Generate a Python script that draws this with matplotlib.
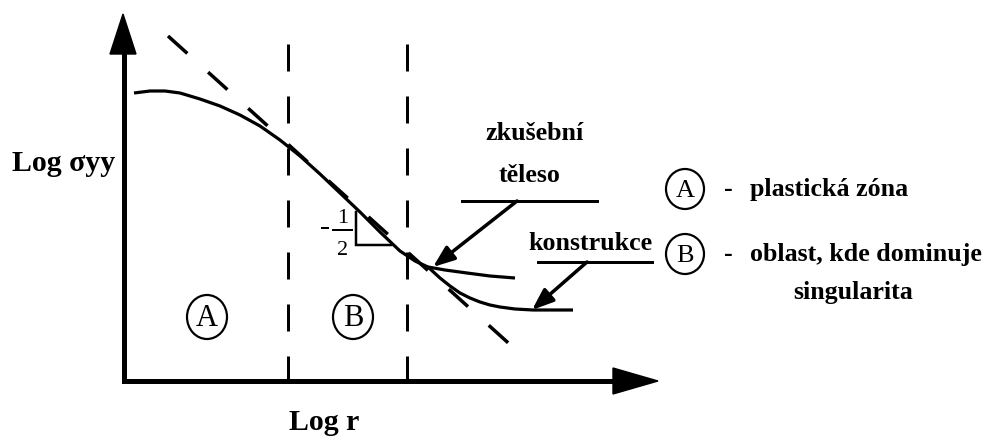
import matplotlib.pyplot as plt
from matplotlib.patches import Ellipse, Polygon

plt.rcParams['lines.scale_dashes'] = False
plt.rcParams['font.family'] = ['Liberation Serif', 'DejaVu Serif']

# Schematic sigma_yy vs r near a crack tip, drawn in pixel space (y downward).
# common part of the curve (plastic zone + singular zone)
main_x = [134, 150, 165, 180, 200, 220, 240, 260, 280, 300, 320, 340, 360, 380, 400, 415, 428]
main_y = [94, 92, 92, 94, 100, 107, 116, 127, 141, 157, 175, 194, 213, 233, 252, 262, 268]

# branch for the structure ("konstrukce")
konstr_x = [428, 440, 450, 460, 470, 480, 490, 500, 515, 533, 550, 573]
konstr_y = [268, 279, 287, 294, 299, 303, 306, 308, 310, 311, 311, 311]

# branch for the test specimen ("zkusebni teleso")
teleso_x = [428, 445, 467, 490, 515]
teleso_y = [268, 271, 274, 277, 279]

# -1/2 asymptote and the zone borders
asym_x = [168, 515]
asym_y = [37, 350]
zone_x = [288, 407]
zone_top, zone_bottom = 45, 384

fig = plt.figure(figsize=(9.85, 4.39), dpi=100)
ax = fig.add_axes([0, 0, 1, 1])
ax.set_xlim(0, 985)
ax.set_ylim(439, 0)
ax.axis('off')

k = 'black'
px = 0.72  # points per pixel at 100 dpi

# axes with arrow heads
ax.plot([124, 124, 620], [50, 382, 382], color=k, lw=5 * px,
        solid_joinstyle='miter', solid_capstyle='butt')
ax.add_patch(Polygon([(123, 15), (110, 55), (136, 55)], closed=True, color=k))
ax.add_patch(Polygon([(658, 382), (613, 369), (613, 395)], closed=True, color=k))

# zone borders
for zx in zone_x:
    ax.plot([zx, zx], [zone_top, zone_bottom], color=k, lw=3 * px,
            linestyle=(0, (27 * px, 25 * px)), dash_capstyle='butt')

# asymptote with slope -1/2
ax.plot(asym_x, asym_y, color=k, lw=3.5 * px,
        linestyle=(0, (26 * px, 28 * px)), dash_capstyle='butt')

# stress curves
for xs, ys in [(main_x, main_y), (konstr_x, konstr_y), (teleso_x, teleso_y)]:
    ax.plot(xs, ys, color=k, lw=3.2 * px, solid_joinstyle='round', solid_capstyle='butt')

# slope triangle
ax.plot([356, 356, 391], [213, 246, 246], color=k, lw=2.5 * px, solid_joinstyle='miter')
ax.text(343, 219, '1', ha='center', va='center', fontsize=16)
ax.plot([333, 352], [231, 231], color=k, lw=2 * px)
ax.text(343, 251, '2', ha='center', va='center', fontsize=16)
ax.plot([322, 328], [229, 229], color=k, lw=2 * px)

# circled zone markers
def circled(x, y, letter, w, h, size):
    ax.add_patch(Ellipse((x, y), w, h, fill=False, ec=k, lw=2.2 * px))
    ax.text(x, y + 1, letter, ha='center', va='center', fontsize=size)

circled(207, 318, 'A', 40, 44, 22)
circled(353, 318, 'B', 40, 44, 22)
circled(685, 190, 'A', 38, 40, 19)
circled(685, 255, 'B', 38, 40, 19)

# axis titles
ax.text(12, 171, 'Log σyy', ha='left', va='baseline', fontsize=21.5, fontweight='bold')
ax.text(324, 430, 'Log r', ha='center', va='baseline', fontsize=21.5, fontweight='bold')

# annotation labels and leaders
bold = dict(fontsize=18.7, fontweight='bold')
ax.text(535, 140, 'zkušební', ha='center', va='baseline', **bold)
ax.text(530, 182, 'těleso', ha='center', va='baseline', **bold)
ax.plot([462, 597], [202, 202], color=k, lw=3 * px)
ax.text(590, 250, 'konstrukce', ha='center', va='baseline', **bold)
ax.plot([538, 652], [263, 263], color=k, lw=3 * px)

arrow = dict(arrowstyle='-|>,head_length=0.65,head_width=0.25', color=k,
             lw=3.5 * px, shrinkA=0, shrinkB=0, mutation_scale=20)
ax.annotate('', xy=(433, 268), xytext=(517, 202), arrowprops=arrow)
ax.annotate('', xy=(532, 311), xytext=(587, 263), arrowprops=arrow)

# legend on the right
ax.text(728, 196, '-', ha='center', va='baseline', **bold)
ax.text(750, 196, 'plastická zóna', ha='left', va='baseline', **bold)
ax.text(728, 261, '-', ha='center', va='baseline', **bold)
ax.text(750, 261, 'oblast, kde dominuje', ha='left', va='baseline', **bold)
ax.text(853, 299, 'singularita', ha='center', va='baseline', **bold)

fig.savefig('out.png', dpi=100)
